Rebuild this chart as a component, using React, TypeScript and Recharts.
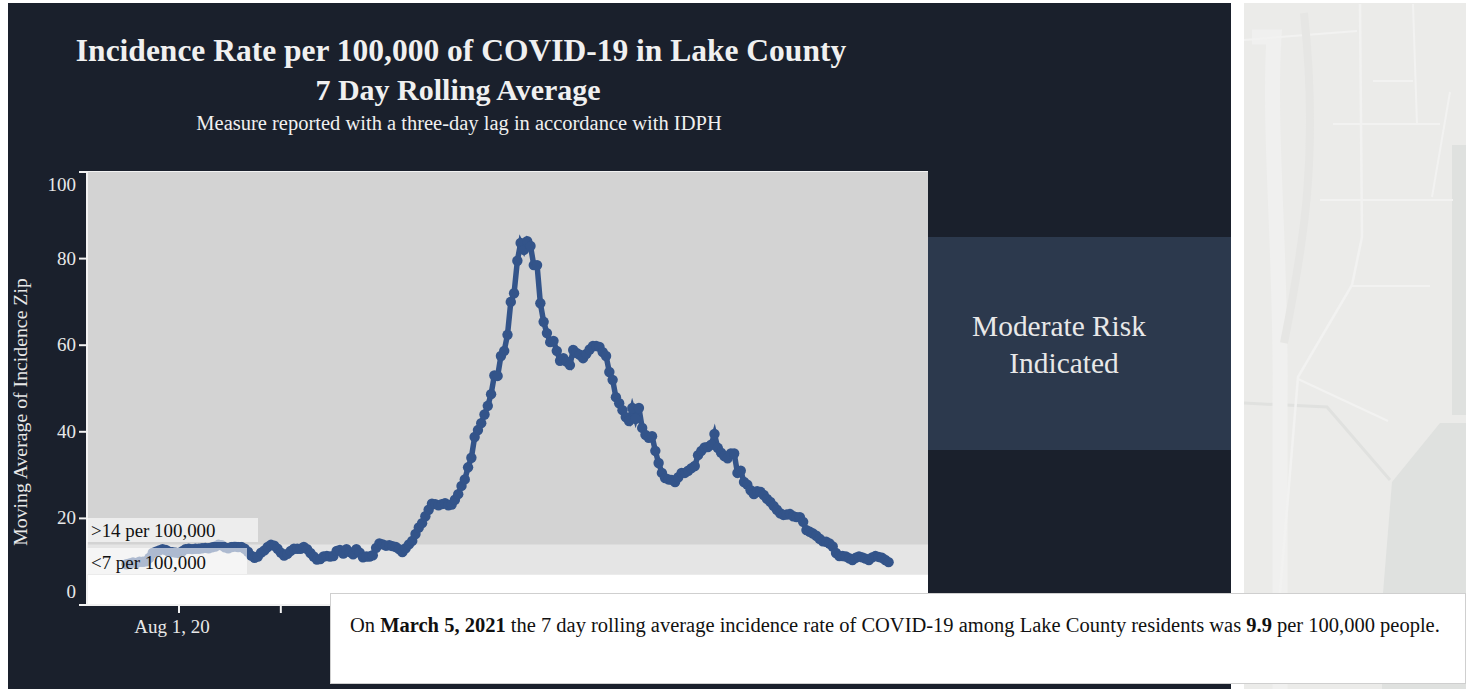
import React from 'react';
import { ComposedChart, Line, XAxis, YAxis, CartesianGrid, ReferenceArea } from 'recharts';

// daily 7 day rolling average
const jul2020 = [9.4, 9.6, 9.8, 9.7, 10, 10, 10.1, 10.9, 12, 12.3, 12.6, 12.9, 12.7, 12.3, 12.2, 12.1];
const aug2020 = [12, 12.4, 12.9, 13, 12.9, 13, 13, 13.1, 13.2, 13.1, 13.3, 13.5, 13.9, 13.8, 13.3, 13.1, 13.4, 13.5, 13.4, 13.4, 13, 12.3, 11.4, 10.9, 11.2, 12.1, 12.6, 13.4, 13.9, 13.7, 13];
const sep2020 = [12.1, 11.4, 11.8, 12.5, 13, 13, 13, 13.4, 12.9, 12, 11.2, 10.5, 10.6, 11.2, 11.3, 11.2, 11.3, 12.5, 12.7, 11.9, 12.9, 12.2, 11.7, 12.9, 12.1, 11, 11.2, 11.2, 11.5, 13.2];
const oct2020 = [14.2, 14, 13.7, 13.8, 13.6, 13.4, 12.9, 12.2, 13.1, 14, 14.8, 16.4, 17.9, 18.9, 20.5, 22, 23.4, 23.3, 23, 23.3, 23.5, 23, 23.2, 24.3, 25.6, 27.5, 29, 31.8, 34, 38.8, 40.4];
const nov2020 = [42, 44, 46, 48.7, 53, 52.9, 57.5, 58.7, 62.4, 70, 72, 79.5, 83.6, 82, 84, 82.9, 78.5, 78.5, 69.7, 65.4, 62.8, 60.7, 61, 58.7, 56.4, 57, 56.2, 55.4, 58.9, 58.2];
const dec2020 = [57.8, 57, 58, 59, 59.8, 59.8, 59.6, 58.4, 57.5, 53.8, 52, 48, 46.6, 45, 43.4, 42.5, 45.5, 43, 45.5, 40.9, 39.3, 38.6, 39, 35.6, 32.8, 30.5, 29.3, 29, 28.9, 28.4, 29.5];
const jan2021 = [30.5, 30.5, 31, 31.6, 32.1, 34.6, 35.6, 36.4, 36.5, 37, 39.5, 36.3, 35.2, 34.4, 33.9, 35, 35, 30.5, 31, 28.4, 27.8, 26.5, 25.6, 26.3, 26.1, 25.4, 24.5, 23.8, 22.9, 22, 21.2];
const feb2021 = [20.8, 20.9, 21, 20.5, 20.3, 20.3, 19.2, 17.3, 16.9, 16.5, 16, 15.3, 14.7, 14.6, 14.2, 13.5, 12, 11.3, 11.3, 11.2, 10.8, 10.4, 10.9, 11.2, 11, 10.7, 10.4, 11];
const mar2021 = [11.3, 11.1, 10.9, 10.4, 9.9];

const values = [...jul2020, ...aug2020, ...sep2020, ...oct2020, ...nov2020, ...dec2020, ...jan2021, ...feb2021, ...mar2021];

const DAY = 86400000;
const firstDay = Date.UTC(2020, 6, 16);
const data = values.map((v, i) => ({ date: firstDay + i * DAY, rate: v }));

const yTicks = [0, 20, 40, 60, 80, 100];
const xTicks = [
  Date.UTC(2020, 7, 1), Date.UTC(2020, 8, 1), Date.UTC(2020, 9, 1), Date.UTC(2020, 10, 1),
  Date.UTC(2020, 11, 1), Date.UTC(2021, 0, 1), Date.UTC(2021, 1, 1), Date.UTC(2021, 2, 1),
];
const xDomain = [Date.UTC(2020, 6, 4), Date.UTC(2021, 2, 17)];

// the other labels sit behind the white note in the picture, so only this one is drawn
const formatTick = (t: number) => (t === xTicks[0] ? 'Aug 1, 20' : '');

const FONT = '"Liberation Serif", serif';
const at = (left: number, top: number, extra: React.CSSProperties = {}): React.CSSProperties => ({
  position: 'absolute', left, top, whiteSpace: 'nowrap', ...extra,
});
const centered = (cx: number, cy: number, size: number, extra: React.CSSProperties = {}): React.CSSProperties => ({
  position: 'absolute', left: cx, top: cy, transform: 'translate(-50%, -50%)', fontSize: size, whiteSpace: 'nowrap', ...extra,
});

// first and last labels are pulled inside the plot, like the original axis does
const YTick = ({ x, y, payload }: any) => {
  const shift = payload.value === 100 ? 13 : payload.value === 0 ? -13 : 0;
  return (
    <text x={x} y={y + shift + 6} textAnchor="end" fill="#e8e8e8" fontSize={19} fontFamily={FONT}>
      {payload.value}
    </text>
  );
};

const MapBackdrop = () => (
  <svg width={222} height={686} style={{ position: 'absolute', left: 1244, top: 3 }}>
    <rect width={222} height={686} fill="#ebebe9" />
    <path d="M208 142 L222 142 L222 412 L208 412 Z" fill="#dfe1df" />
    <path d="M196 420 L222 420 L222 686 L138 686 L139 590 L148 479 Z" fill="#dfe1df" />
    <path d="M-1 400 L83 404 L146 477" fill="none" stroke="#e0e1df" strokeWidth={3} />
    <path d="M8 34 L30 34 C24 130 38 260 36 400 L36 686" fill="none" stroke="#f0f0ef" strokeWidth={15} />
    <path d="M116 1 L118 234 L108 282 L54 374 L36 590" fill="none" stroke="#f2f2f1" strokeWidth={2.5} />
    <path d="M-1 37 L113 28 M89 121 L196 121 M76 197 L209 197 M108 283 L186 283 M129 78 L169 78 M54 376 L144 418 M206 89 L188 194 M169 1 L173 122" fill="none" stroke="#f2f2f1" strokeWidth={2} />
    <path d="M60 10 C75 150 60 240 40 340" fill="none" stroke="#e6e6e4" strokeWidth={8} />
  </svg>
);

const App: React.FC = () => {
  return (
    <div style={{ position: 'absolute', left: 0, top: 0, width: 1466, height: 689, overflow: 'hidden', background: '#fff', fontFamily: FONT }}>
      <div style={{ position: 'absolute', left: 8, top: 3, width: 1223, height: 686, background: '#1a202c' }} />
      <MapBackdrop />
      <div style={{ position: 'absolute', left: 928, top: 237, width: 303, height: 213, background: '#2c394d' }} />

      <div style={centered(461, 51, 31.5, { fontWeight: 'bold', color: '#f0f0f0' })}>Incidence Rate per 100,000 of COVID-19 in Lake County</div>
      <div style={centered(458, 90, 30, { fontWeight: 'bold', color: '#f0f0f0' })}>7 Day Rolling Average</div>
      <div style={centered(459, 123, 20.5, { color: '#f0f0f0' })}>Measure reported with a three-day lag in accordance with IDPH</div>

      <div style={{ position: 'absolute', left: 0, top: 0 }}>
        <ComposedChart width={1466} height={689} data={data} margin={{ top: 172, right: 538, bottom: 0, left: 37 }}>
          {/* stacked from 0 so no dark seam shows between the bands */}
          <ReferenceArea y1={0} y2={100} fill="#d3d3d3" fillOpacity={1} stroke="none" />
          <ReferenceArea y1={0} y2={14} fill="#e5e5e5" fillOpacity={1} stroke="none" />
          <ReferenceArea y1={0} y2={7} fill="#ffffff" fillOpacity={1} stroke="none" />
          <CartesianGrid horizontal vertical={false} stroke="#f2f2f2" strokeWidth={2} />
          <XAxis
            dataKey="date"
            type="number"
            scale="time"
            domain={xDomain}
            ticks={xTicks}
            interval={0}
            tickFormatter={formatTick}
            height={84}
            tickSize={8}
            tickMargin={7}
            stroke="#f2f2f2"
            strokeWidth={2}
            tick={{ fill: '#e8e8e8', fontSize: 19, fontFamily: FONT, dx: -7 }}
          />
          <YAxis
            type="number"
            domain={[0, 100]}
            ticks={yTicks}
            interval={0}
            width={50}
            tickSize={8}
            tickMargin={3}
            stroke="#f2f2f2"
            strokeWidth={2}
            tick={YTick}
          />
          <Line
            dataKey="rate"
            type="linear"
            stroke="#33548a"
            strokeWidth={5.5}
            dot={{ r: 5.2, fill: '#33548a', stroke: 'none' }}
            activeDot={false}
            isAnimationActive={false}
          />
        </ComposedChart>
      </div>

      <div style={centered(20, 412, 19.8, { color: '#e8e8e8', transform: 'translate(-50%, -50%) rotate(-90deg)' })}>Moving Average of Incidence Zip</div>

      <div style={{ position: 'absolute', left: 87, top: 518, width: 171, height: 24, background: 'rgba(255,255,255,0.6)' }} />
      <div style={{ position: 'absolute', left: 87, top: 548, width: 160, height: 26, background: 'rgba(255,255,255,0.6)' }} />
      <div style={at(91, 520, { fontSize: 18.9, color: '#111' })}>&gt;14 per 100,000</div>
      <div style={at(91, 552, { fontSize: 18.9, color: '#111' })}>&lt;7 per 100,000</div>

      <div style={centered(1059, 326, 29.4, { color: '#e8e8e8' })}>Moderate Risk</div>
      <div style={centered(1064, 363, 29.4, { color: '#e8e8e8' })}>Indicated</div>

      <div style={{ position: 'absolute', left: 330, top: 593, width: 1136, height: 91, background: '#fff', border: '1px solid #cfcfcf', boxSizing: 'border-box' }}>
        <div style={at(19, 20, { fontSize: 20.5, color: '#111' })}>
          On <b>March 5, 2021</b> the 7 day rolling average incidence rate of COVID-19 among Lake County residents was <b>9.9</b> per 100,000 people.
        </div>
      </div>
    </div>
  );
};

export default App;
